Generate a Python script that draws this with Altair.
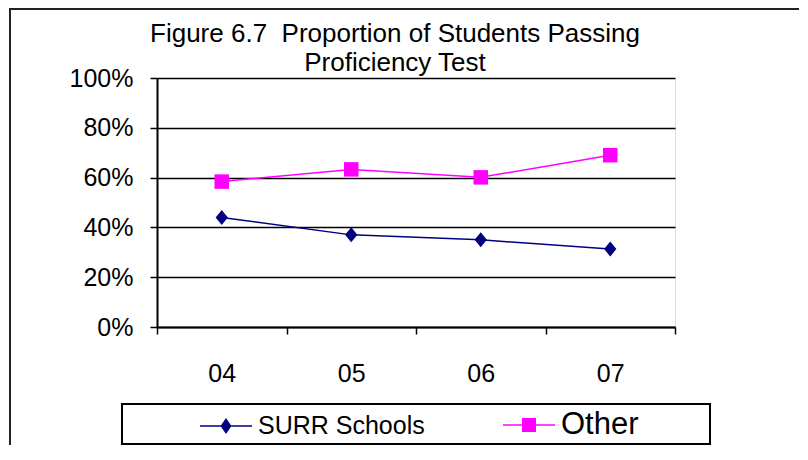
import altair as alt
import pandas as pd

years = ["04", "05", "06", "07"]
surr = [0.44, 0.37, 0.35, 0.313]
other = [0.584, 0.633, 0.601, 0.69]
series = ["SURR Schools", "Other"]
colors = ["#000080", "#FF00FF"]
y_ticks = [0, 0.2, 0.4, 0.6, 0.8, 1.0]

df = pd.DataFrame({
    "year": years * 2,
    "value": surr + other,
    "series": [series[0]] * 4 + [series[1]] * 4,
})

FONT = "Liberation Sans"
DIAMOND = "M0,-1L0.82,0L0,1L-0.82,0Z"
marker_shapes = [DIAMOND, "square"]
marker_sizes = [225, 210]
LEG_DIAMOND = "M-1,-0.03H1V0.03H-1ZM0,-0.31L0.21,0L0,0.31L-0.21,0Z"
LEG_SQUARE = "M-1,-0.03H1V0.03H-1ZM-0.27,-0.27H0.27V0.27H-0.27Z"

color = alt.Color(
    "series:N",
    sort=series,
    scale=alt.Scale(domain=series, range=colors),
    legend=alt.Legend(
        title=None,
        orient="none",
        legendX=43,
        legendY=321,
        direction="horizontal",
        columns=2,
        columnPadding=78,
        symbolSize=2704,
        symbolStrokeWidth=0,
        symbolType=alt.ExprRef(expr=f"datum.label == 'Other' ? '{LEG_SQUARE}' : '{LEG_DIAMOND}'"),
        symbolFillColor=alt.ExprRef(expr="datum.label == 'Other' ? '#FF00FF' : '#000080'"),
        labelFontSize=alt.ExprRef(expr="datum.label == 'Other' ? 31 : 25"),
        labelFont=FONT,
        labelColor="black",
        labelOffset=6,
        labelLimit=400,
    ),
)

x = alt.X(
    "year:O",
    sort=years,
    scale=alt.Scale(type="band", paddingInner=0, paddingOuter=0),
    axis=alt.Axis(
        title=None,
        labelAngle=0,
        labelFont=FONT,
        labelFontSize=25,
        labelColor="black",
        labelPadding=27,
        tickBand="extent",
        tickSize=7,
        tickColor="black",
        tickWidth=1.5,
        domainColor="black",
        domainWidth=2,
        grid=False,
    ),
)
y = alt.Y(
    "value:Q",
    scale=alt.Scale(domain=[0, 1], nice=False),
    axis=alt.Axis(
        title=None,
        values=y_ticks,
        format=".0%",
        labelFont=FONT,
        labelFontSize=25,
        labelColor="black",
        labelPadding=17,
        tickSize=7,
        tickColor="black",
        tickWidth=1.5,
        domainColor="black",
        domainWidth=2,
        grid=True,
        gridColor="black",
        gridWidth=1.5,
        gridOpacity=1,
    ),
)

lines = alt.Chart(df).mark_line(strokeWidth=1.5).encode(x=x, y=y, color=color)
point_layers = [
    alt.Chart(df)
    .transform_filter(alt.datum.series == s)
    .mark_point(filled=True, opacity=1, shape=shp, size=sz, color=c)
    .encode(x=x, y=y)
    for s, shp, sz, c in zip(series, marker_shapes, marker_sizes, colors)
]

one = pd.DataFrame({"a": [0]})
legend_box = alt.Chart(one).mark_rect(fill=None, stroke="black", strokeWidth=2).encode(
    x=alt.value(-35), x2=alt.value(553), y=alt.value(326), y2=alt.value(366)
)
border_top = alt.Chart(one).mark_rule(color="#222222", strokeWidth=2).encode(
    x=alt.value(-148), x2=alt.value(700), y=alt.value(-69)
)
border_left = alt.Chart(one).mark_rule(color="#222222", strokeWidth=2).encode(
    x=alt.value(-147), y=alt.value(-70), y2=alt.value(400)
)

chart = alt.layer(lines, *point_layers, legend_box, border_top, border_left).properties(
    width=518,
    height=249,
    title=alt.TitleParams(
        text=["Figure 6.7\u00a0 Proportion of Students Passing", "Proficiency Test"],
        font=FONT,
        fontSize=26,
        fontWeight="normal",
        color="black",
        lineHeight=29,
        anchor="middle",
        dx=-21,
        offset=-69,
    ),
    autosize=alt.AutoSizeParams(type="none"),
    padding={"left": 149, "top": 70, "right": 124, "bottom": 118},
).configure_view(stroke=None).configure(background="white")

chart.save("out.html", embed_options={"renderer": "svg", "actions": False})
